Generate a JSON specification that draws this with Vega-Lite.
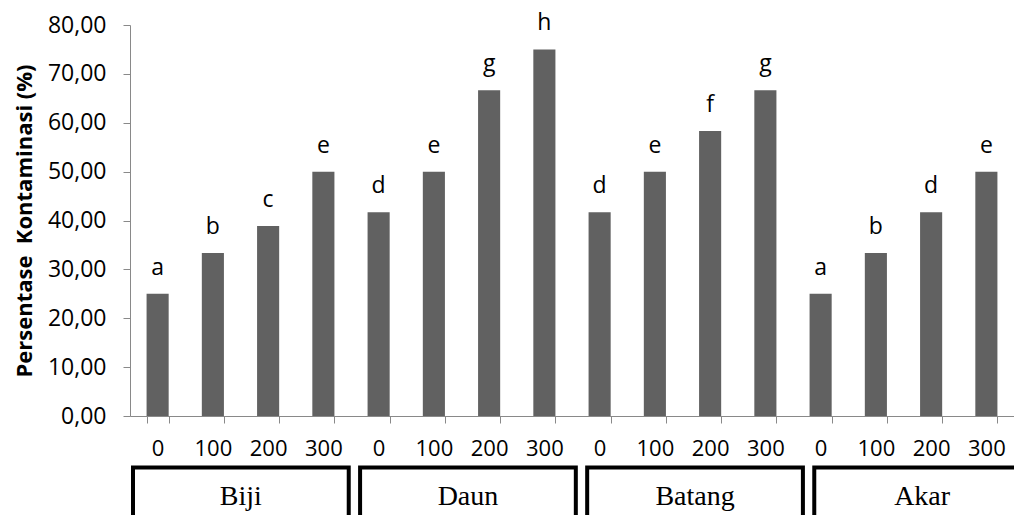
{
  "$schema": "https://vega.github.io/schema/vega-lite/v6.json",
  "autosize": {"type": "none"},
  "width": 884,
  "height": 391,
  "padding": {"left": 130, "top": 25, "right": 0, "bottom": 99},
  "background": "white",
  "config": {"view": {"stroke": null}, "font": "Open Sans"},
  "datasets": {
    "bars": [
      {"organ": "Biji", "key": "Biji|0", "persen": 25.0, "notasi": "a"},
      {"organ": "Biji", "key": "Biji|100", "persen": 33.33, "notasi": "b"},
      {"organ": "Biji", "key": "Biji|200", "persen": 38.89, "notasi": "c"},
      {"organ": "Biji", "key": "Biji|300", "persen": 50.0, "notasi": "e"},
      {"organ": "Daun", "key": "Daun|0", "persen": 41.67, "notasi": "d"},
      {"organ": "Daun", "key": "Daun|100", "persen": 50.0, "notasi": "e"},
      {"organ": "Daun", "key": "Daun|200", "persen": 66.67, "notasi": "g"},
      {"organ": "Daun", "key": "Daun|300", "persen": 75.0, "notasi": "h"},
      {"organ": "Batang", "key": "Batang|0", "persen": 41.67, "notasi": "d"},
      {"organ": "Batang", "key": "Batang|100", "persen": 50.0, "notasi": "e"},
      {"organ": "Batang", "key": "Batang|200", "persen": 58.33, "notasi": "f"},
      {"organ": "Batang", "key": "Batang|300", "persen": 66.67, "notasi": "g"},
      {"organ": "Akar", "key": "Akar|0", "persen": 25.0, "notasi": "a"},
      {"organ": "Akar", "key": "Akar|100", "persen": 33.33, "notasi": "b"},
      {"organ": "Akar", "key": "Akar|200", "persen": 41.67, "notasi": "d"},
      {"organ": "Akar", "key": "Akar|300", "persen": 50.0, "notasi": "e"}
    ],
    "groups": [
      {"organ": "Biji"},
      {"organ": "Daun"},
      {"organ": "Batang"},
      {"organ": "Akar"}
    ]
  },
  "layer": [
    {
      "data": {"name": "bars"},
      "encoding": {
        "x": {
          "field": "key",
          "type": "nominal",
          "sort": null,
          "scale": {"paddingInner": 0.6, "paddingOuter": 0.3},
          "axis": {
            "title": null,
            "labelExpr": "split(datum.label, '|')[1]",
            "labelAngle": 0,
            "labelFont": "Open Sans",
            "labelFontSize": 22,
            "labelColor": "black",
            "labelPadding": 15,
            "labelOverlap": false,
            "tickBand": "extent",
            "tickSize": 7,
            "tickColor": "#898989",
            "domainColor": "#898989"
          }
        },
        "y": {
          "field": "persen",
          "type": "quantitative",
          "scale": {"domain": [0, 80], "nice": false},
          "axis": {
            "values": [0, 10, 20, 30, 40, 50, 60, 70, 80],
            "labelExpr": "replace(format(datum.value, '.2f'), '.', ',')",
            "labelFont": "Open Sans",
            "labelFontSize": 23,
            "labelColor": "black",
            "labelPadding": 17,
            "tickSize": 7,
            "tickColor": "#898989",
            "domainColor": "#898989",
            "grid": false,
            "title": "Persentase\u00a0 Kontaminasi (%)",
            "titleFont": "Open Sans",
            "titleFontWeight": "bold",
            "titleFontSize": 22,
            "titleColor": "black",
            "titlePadding": 11
          }
        }
      },
      "layer": [
        {"mark": {"type": "bar", "color": "#616161"}},
        {
          "mark": {"type": "text", "dy": -19, "baseline": "alphabetic", "fontSize": 23, "font": "Open Sans", "color": "black"},
          "encoding": {"text": {"field": "notasi"}}
        }
      ]
    },
    {
      "data": {"name": "groups"},
      "encoding": {
        "x": {
          "field": "organ",
          "type": "nominal",
          "sort": null,
          "scale": {"paddingInner": 0.05, "paddingOuter": 0, "range": [3, 900]},
          "axis": null
        }
      },
      "layer": [
        {
          "mark": {"type": "rect", "filled": false, "color": "black", "strokeWidth": 4},
          "encoding": {
            "y": {"datum": -10.54, "type": "quantitative"},
            "y2": {"datum": -25}
          }
        },
        {
          "mark": {"type": "text", "font": "Liberation Serif", "fontSize": 28, "baseline": "alphabetic", "color": "black"},
          "encoding": {
            "y": {"datum": -18.15, "type": "quantitative"},
            "text": {"field": "organ"}
          }
        }
      ]
    }
  ],
  "resolve": {"scale": {"x": "independent"}}
}
